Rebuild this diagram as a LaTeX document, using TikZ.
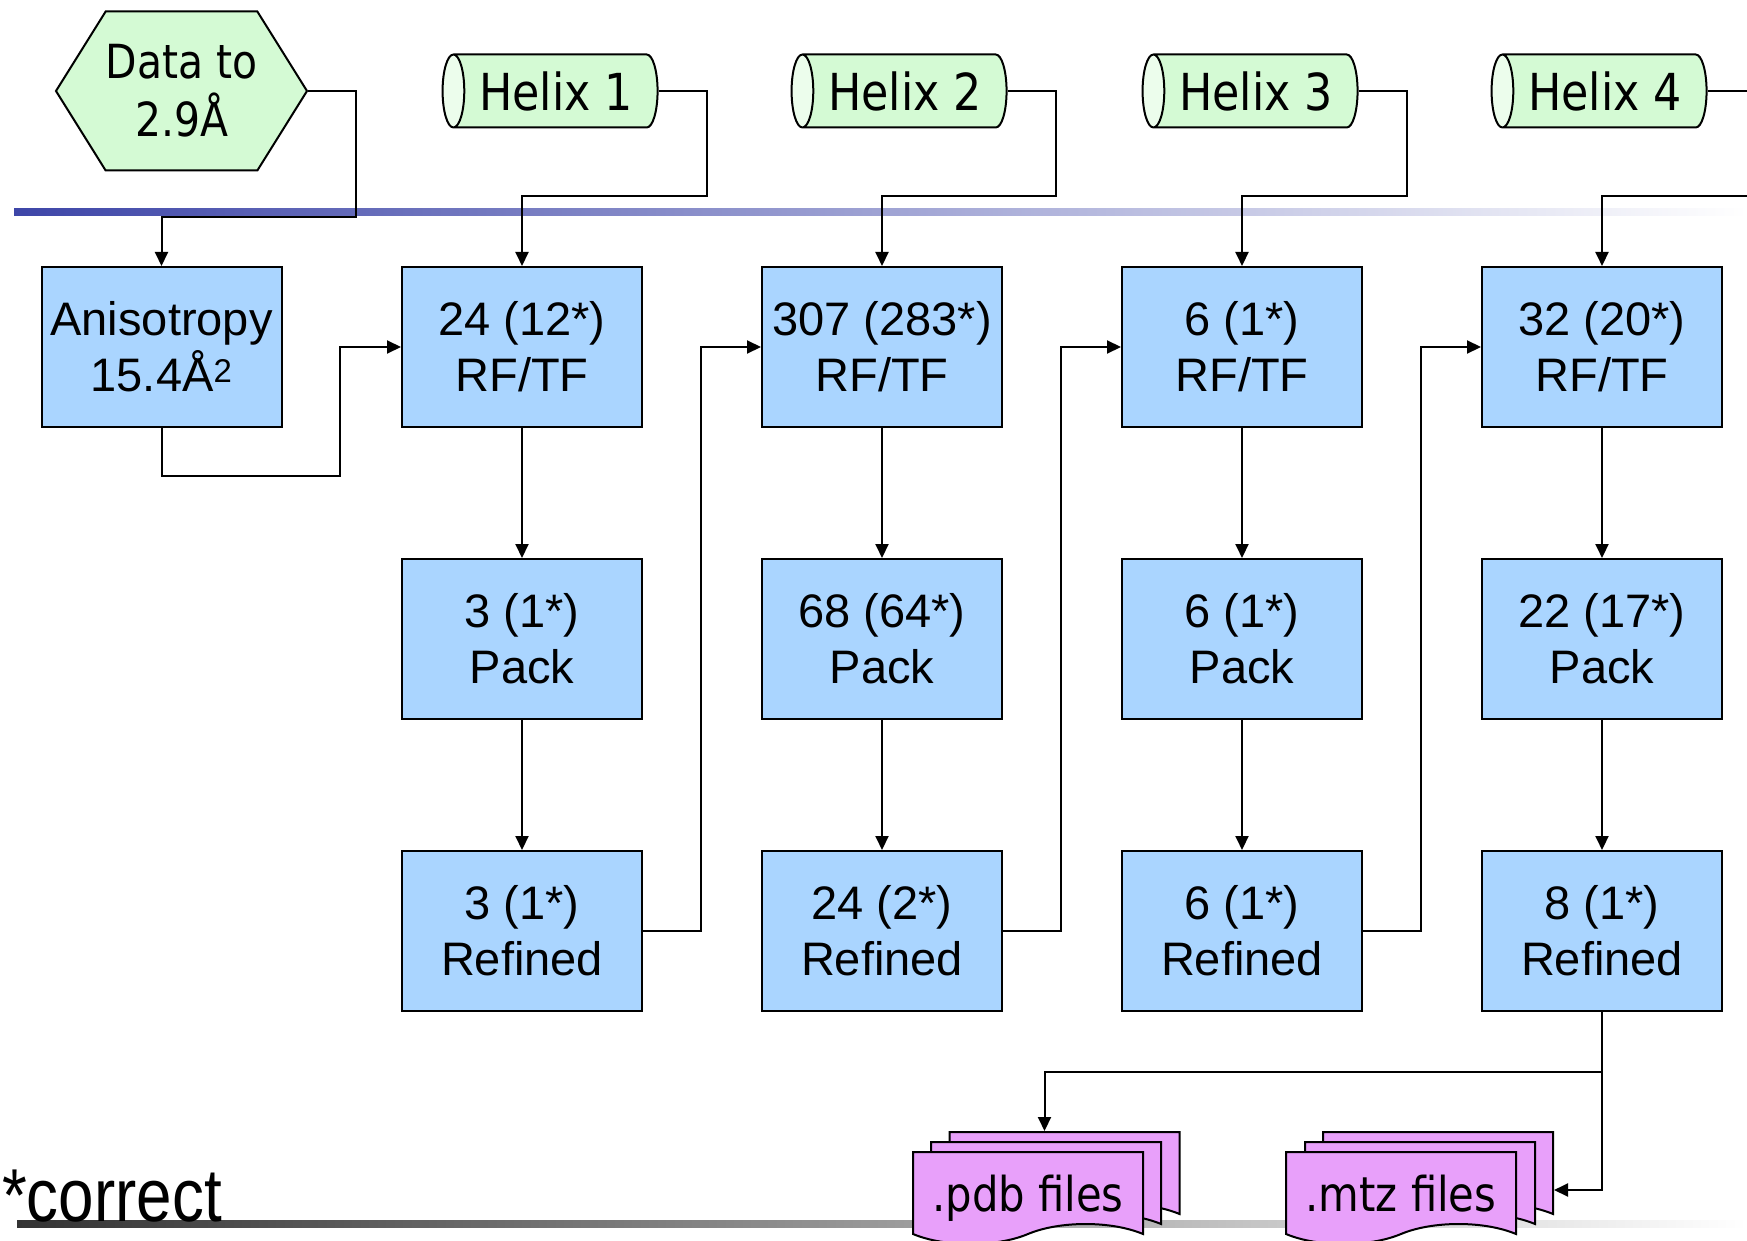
\documentclass[tikz,border=0pt]{standalone}
\usepackage{fontspec}
\setmainfont{Liberation Sans}
\newfontfamily\tahomafont{DejaVu Sans}[FakeStretch=0.87]
\newfontfamily\narrowfont{Liberation Sans}[FakeStretch=0.85]
\usetikzlibrary{arrows.meta, shapes.geometric, shapes.symbols}
\definecolor{boxblue}{RGB}{170,213,255}
\definecolor{helixgreen}{RGB}{212,250,212}
\definecolor{helixend}{RGB}{236,253,236}
\definecolor{filepink}{RGB}{232,160,250}
\definecolor{lineblue}{RGB}{62,70,168}
\tikzset{
  stepbox/.style={rectangle, draw, line width=2pt, fill=boxblue, minimum width=240pt, minimum height=160pt, align=center, inner sep=2pt, font=\fontsize{47}{56}\selectfont},
  hexbox/.style={signal, signal to=west and east, signal pointer angle=116, draw, line width=2pt, fill=helixgreen, minimum width=251pt, minimum height=159pt, align=center, inner sep=0pt, font=\tahomafont\fontsize{47}{58}\selectfont},
  helix/.style={cylinder, shape border rotate=180, draw, line width=2pt, cylinder uses custom fill, cylinder body fill=helixgreen, cylinder end fill=helixend, shape aspect=0.55, minimum height=215pt, minimum width=73pt, inner sep=0pt, font=\tahomafont\fontsize{51}{60}\selectfont},
  filepage/.style={tape, tape bend top=none, tape bend bottom=in and out, tape bend height=20pt, draw, line width=2pt, fill=filepink, minimum width=230pt, minimum height=92pt, inner sep=0pt, text height=58pt, text depth=12pt, anchor=north, font=\tahomafont\fontsize{48}{56}\selectfont},
  arr/.style={line width=2pt, -{Triangle[length=14pt,width=13pt]}}
}
\begin{document}
\begin{tikzpicture}[x=1pt, y=-1pt]
\useasboundingbox (0,0) rectangle (1747,1241);
\clip (0,0) rectangle (1747,1241);
\shade[left color=lineblue, right color=white] (14,209) rectangle (1747,216);
\shade[left color=black!80, right color=white] (17,1220) rectangle (1747,1227);

\node (data)[hexbox] at (181.5,91) {Data to\\2.9Å};
\node (helix1)[helix] at (556,91) {Helix 1};
\node (helix2)[helix] at (905,91) {Helix 2};
\node (helix3)[helix] at (1256,91) {Helix 3};
\node (helix4)[helix] at (1605,91) {Helix 4};

\node (aniso)[stepbox] at (161.5,347) {Anisotropy\\15.4Å\textsuperscript{2}};
\node (rf1)[stepbox] at (522,347) {24 (12*)\\RF/TF};
\node (pack1)[stepbox] at (522,639) {3 (1*)\\Pack};
\node (ref1)[stepbox] at (522,931) {3 (1*)\\Refined};
\node (rf2)[stepbox] at (882,347) {307 (283*)\\RF/TF};
\node (pack2)[stepbox] at (882,639) {68 (64*)\\Pack};
\node (ref2)[stepbox] at (882,931) {24 (2*)\\Refined};
\node (rf3)[stepbox] at (1242,347) {6 (1*)\\RF/TF};
\node (pack3)[stepbox] at (1242,639) {6 (1*)\\Pack};
\node (ref3)[stepbox] at (1242,931) {6 (1*)\\Refined};
\node (rf4)[stepbox] at (1602,347) {32 (20*)\\RF/TF};
\node (pack4)[stepbox] at (1602,639) {22 (17*)\\Pack};
\node (ref4)[stepbox] at (1602,931) {8 (1*)\\Refined};

\node (pdbC)[filepage] at (1064.5,1131) {};
\node (pdbB)[filepage] at (1046,1141) {};
\node (pdb)[filepage] at (1028,1151) {.pdb files};
\node (mtzC)[filepage] at (1438,1131) {};
\node (mtzB)[filepage] at (1420,1141) {};
\node (mtz)[filepage] at (1401,1151) {.mtz files};

\node (note)[anchor=base west, inner sep=0pt, font=\narrowfont\fontsize{75}{80}\selectfont] at (2,1221) {*correct};

\draw[arr] (data.east) -- ++(47.5,0) |- ([yshift=49pt]aniso.north) -- (aniso.north);
\draw[arr] (helix1.east) -- ++(48,0) |- ([yshift=70pt]rf1.north) -- (rf1.north);
\draw[arr] (helix2.east) -- ++(48,0) |- ([yshift=70pt]rf2.north) -- (rf2.north);
\draw[arr] (helix3.east) -- ++(48,0) |- ([yshift=70pt]rf3.north) -- (rf3.north);
\draw[arr] (helix4.east) -- ++(48,0) |- ([yshift=70pt]rf4.north) -- (rf4.north);

\draw[arr] (aniso.south) -- ++(0,48) -| ([xshift=-61pt]rf1.west) -- (rf1.west);
\draw[arr] (ref1.east) -| ([xshift=-60pt]rf2.west) -- (rf2.west);
\draw[arr] (ref2.east) -| ([xshift=-60pt]rf3.west) -- (rf3.west);
\draw[arr] (ref3.east) -| ([xshift=-60pt]rf4.west) -- (rf4.west);

\draw[arr] (rf1) -- (pack1);
\draw[arr] (pack1) -- (ref1);
\draw[arr] (rf2) -- (pack2);
\draw[arr] (pack2) -- (ref2);
\draw[arr] (rf3) -- (pack3);
\draw[arr] (pack3) -- (ref3);
\draw[arr] (rf4) -- (pack4);
\draw[arr] (pack4) -- (ref4);

\draw[arr] (ref4.south) -- ++(0,60) -| ([xshift=-20pt]pdbC.north);
\draw[arr] (ref4.south) |- ([yshift=-22pt]mtzC.east);
\end{tikzpicture}
\end{document}
